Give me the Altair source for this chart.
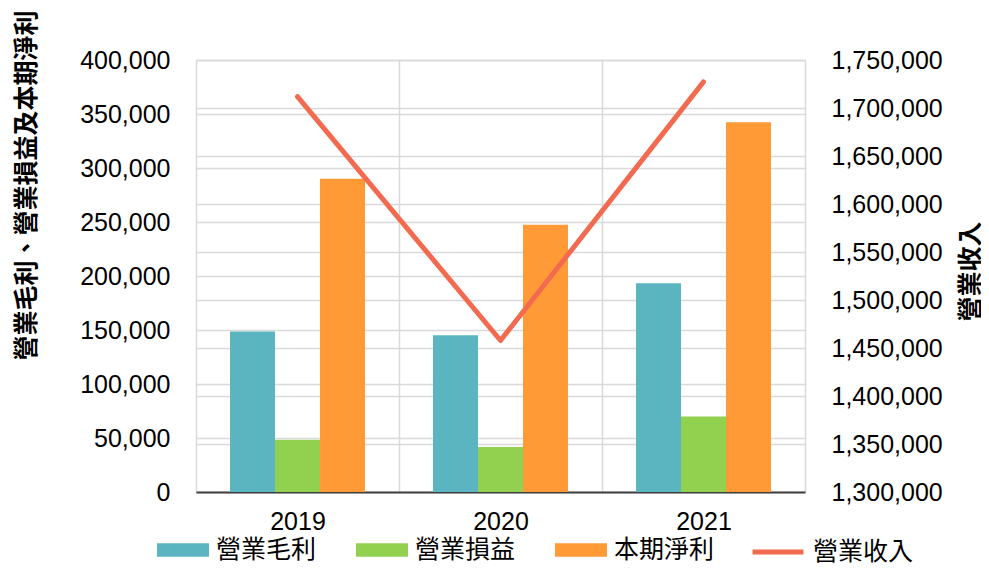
import altair as alt
import pandas as pd

years = ["2019", "2020", "2021"]
bar_series = ["營業毛利", "營業損益", "本期淨利"]
gross_profit = [148500, 145200, 193200]
operating_income = [48400, 41700, 69800]
net_income = [290000, 247400, 342400]
line_name = "營業收入"
revenue = [1711800, 1457800, 1727200]

left_ticks = [0, 50000, 100000, 150000, 200000, 250000, 300000, 350000, 400000]
right_ticks = [1300000, 1350000, 1400000, 1450000, 1500000, 1550000, 1600000,
               1650000, 1700000, 1750000]

bar_colors = ["#5AB5C0", "#92D050", "#FF9A36"]
line_color = "#F26B50"

rows = []
for name, vals in zip(bar_series, [gross_profit, operating_income, net_income]):
    for y, v in zip(years, vals):
        rows.append({"year": y, "series": name, "value": v})
bar_df = pd.DataFrame(rows)
line_df = pd.DataFrame({"year": years, "series": [line_name] * 3, "revenue": revenue})

LAT = "Liberation Sans"
CJK = "Noto Sans CJK TC"

x_enc = alt.X(
    "year:N",
    sort=years,
    scale=alt.Scale(paddingInner=0, paddingOuter=0),
    axis=alt.Axis(
        title=None, labelAngle=0, labelFont=LAT, labelFontSize=25, labelColor="#000000",
        labelPadding=17, ticks=False, grid=True, tickBand="extent",
        gridColor="#D9D9D9", gridWidth=1.5, domainColor="#404040", domainWidth=2,
    ),
)

bars = alt.Chart(bar_df).mark_bar().encode(
    x=x_enc,
    xOffset=alt.XOffset("series:N", sort=bar_series,
                        scale=alt.Scale(paddingInner=0, paddingOuter=0.7556)),
    y=alt.Y(
        "value:Q",
        scale=alt.Scale(domain=[0, 400000], nice=False),
        axis=alt.Axis(
            title="營業毛利、營業損益及本期淨利", values=left_ticks, format=",.0f",
            labelFont=LAT, labelFontSize=25, labelColor="#000000", labelPadding=26,
            ticks=False, domain=False, grid=True, gridColor="#D9D9D9", gridWidth=1.5,
            titleFont=CJK, titleFontSize=25, titleFontWeight="bold", titleColor="#000000",
            titleAngle=270, titleX=-170, titleY=125, titleAlign="center",
            titleBaseline="middle",
        ),
    ),
    color=alt.Color(
        "series:N",
        scale=alt.Scale(domain=bar_series, range=bar_colors),
        legend=alt.Legend(
            title=None, orient="none", direction="horizontal", columns=3,
            legendX=-39, legendY=464, symbolType="M-1,-0.255H1V0.255H-1Z",
            symbolSize=2704, symbolStrokeWidth=0, symbolOpacity=1,
            labelFont=CJK, labelFontSize=25, labelColor="#000000",
            labelOffset=7, columnPadding=39, padding=0,
        ),
    ),
)

line = alt.Chart(line_df).mark_line(strokeWidth=5, strokeCap="round", strokeJoin="round").encode(
    x=alt.X("year:N", sort=years),
    y=alt.Y(
        "revenue:Q",
        scale=alt.Scale(domain=[1300000, 1750000], nice=False, zero=False),
        axis=alt.Axis(
            orient="right", title=line_name, values=right_ticks, format=",.0f",
            labelFont=LAT, labelFontSize=25, labelColor="#000000", labelPadding=26,
            ticks=False, domain=False, grid=True, gridColor="#D9D9D9", gridWidth=1.5,
            titleFont=CJK, titleFontSize=25, titleFontWeight="bold", titleColor="#000000",
            titleAngle=270, titleX=165, titleY=211, titleAlign="center",
            titleBaseline="middle",
        ),
    ),
    stroke=alt.Stroke(
        "series:N",
        scale=alt.Scale(domain=[line_name], range=[line_color]),
        legend=alt.Legend(
            title=None, orient="none", legendX=554, legendY=464,
            symbolType="stroke", symbolSize=2601, symbolStrokeWidth=5,
            labelFont=CJK, labelFontSize=25, labelColor="#000000",
            labelOffset=7, padding=0,
        ),
    ),
)

chart = (
    alt.layer(bars, line)
    .resolve_scale(y="independent", color="independent", stroke="independent")
    .properties(
        width=609, height=432,
        autosize=alt.AutoSizeParams(type="none"),
        padding={"left": 188, "top": 52, "right": 176, "bottom": 72},
        background="#FFFFFF",
    )
    .configure_view(stroke=None)
)

chart.save("out.html", embed_options={"renderer": "svg", "actions": False})
